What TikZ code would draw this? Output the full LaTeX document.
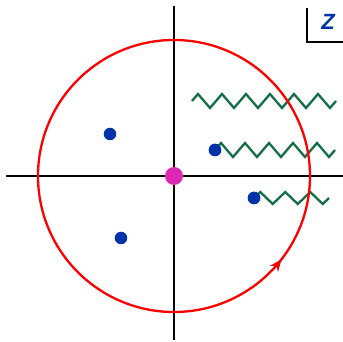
\documentclass[tikz,border=0pt]{standalone}
\usepackage{fontspec}
\setsansfont{Liberation Sans}
\usetikzlibrary{decorations.pathmorphing,decorations.markings,arrows.meta}
\definecolor{poleblue}{RGB}{0,51,170}
\definecolor{cutgreen}{RGB}{20,110,70}
\definecolor{originpink}{RGB}{220,40,180}
\tikzset{
  pole/.style={circle,fill=poleblue,inner sep=0pt,minimum size=12.5pt},
  cut/.style={cutgreen,line width=2.3pt,decorate,decoration={zigzag,segment length=24pt,amplitude=7pt}}
}
\begin{document}
\begin{tikzpicture}[x=1pt,y=1pt]
\useasboundingbox (-174,-166) rectangle (169,176);

% axes
\draw[line width=2.4pt] (-168,0) -- (169,0);
\draw[line width=2.4pt] (0,-164) -- (0,170);

% poles
\node[pole] (A) at (-64,42) {};
\node[pole] (B) at (41,26) {};
\node[pole] (C) at (80,-22) {};
\node[pole] (D) at (-53,-62) {};

% cuts
\draw[cut] (18,75) -- (162,75);
\draw[cut] (B.center) -- ++(120,0);
\draw[cut,decoration={segment length=25pt,amplitude=6pt}] (C.center) -- ++(75,0);
\node[pole] at (B) {};
\node[pole] at (C) {};

% contour
\draw[red,line width=2.3pt,postaction={decorate},
  decoration={markings,mark=at position 0.895 with {\arrow{Stealth[length=12pt,width=10pt]}}}]
  (0,0) circle (136);

\node[circle,fill=originpink,inner sep=0pt,minimum size=18pt] (O) at (0,0) {};

% plane label
\draw[line width=2.2pt] (133,168) -- (133,134) -- (169,134);
\node[text=poleblue,font=\sffamily\bfseries\itshape\fontsize{22}{24}\selectfont] (Z) at (154,154) {Z};
\end{tikzpicture}
\end{document}
